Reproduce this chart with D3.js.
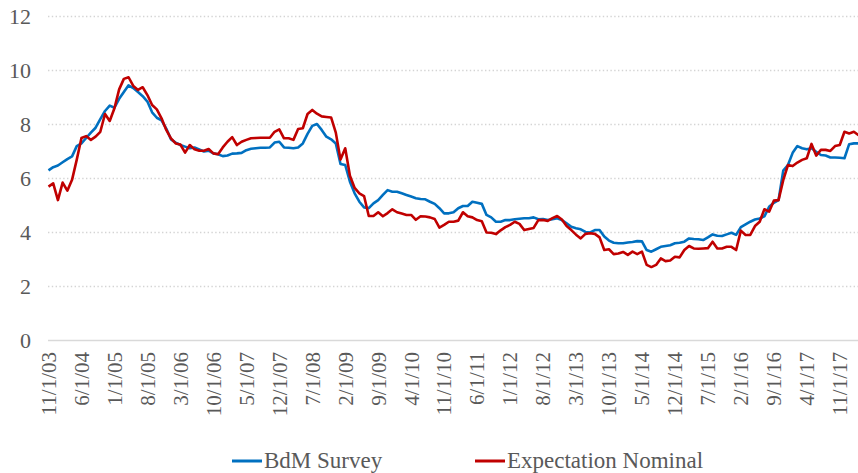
<!DOCTYPE html>
<html>
<head>
<meta charset="utf-8">
<script src="https://cdn.jsdelivr.net/npm/d3@7"></script>
<style>
  svg text { font-family: 'Liberation Serif', 'Tinos', 'Times New Roman', serif !important; }
</style>
</head>
<body style="margin:0">
<svg id="chart" width="858" height="473"></svg>
<script>
var width = 858, height = 473;
var labelFont = "'Liberation Serif', 'Tinos', 'Times New Roman', serif";
var textColor = "#595959";

// monthly observations, Nov 2003 .. Mar 2018
var startMonth = new Date(2003, 10, 1);
var endMonth = new Date(2018, 2, 1);

var bdmSurvey = [
  6.30, 6.42, 6.48, 6.60, 6.72, 6.82, 7.20, 7.30, 7.50, 7.70,
  7.88, 8.20, 8.50, 8.70, 8.62, 8.95, 9.20, 9.45, 9.35, 9.20,
  9.05, 8.85, 8.45, 8.25, 8.15, 7.85, 7.45, 7.33, 7.24, 7.18,
  7.12, 7.15, 7.08, 7.00, 7.03, 6.93, 6.90, 6.83, 6.85, 6.92,
  6.93, 6.95, 7.05, 7.10, 7.12, 7.14, 7.14, 7.15, 7.33, 7.36,
  7.15, 7.14, 7.12, 7.15, 7.30, 7.65, 7.95, 8.02, 7.80, 7.55,
  7.45, 7.30, 6.54, 6.50, 5.88, 5.45, 5.14, 4.93, 4.90, 5.08,
  5.20, 5.39, 5.57, 5.51, 5.51, 5.45, 5.39, 5.33, 5.27, 5.24,
  5.23, 5.14, 5.06, 4.90, 4.71, 4.71, 4.75, 4.90, 4.98, 4.98,
  5.14, 5.10, 5.06, 4.65, 4.56, 4.40, 4.40, 4.46, 4.46, 4.49,
  4.51, 4.53, 4.53, 4.56, 4.49, 4.50, 4.46, 4.49, 4.53, 4.46,
  4.34, 4.21, 4.16, 4.12, 4.02, 4.00, 4.09, 4.09, 3.85, 3.70,
  3.62, 3.60, 3.60, 3.63, 3.65, 3.68, 3.67, 3.35, 3.29, 3.38,
  3.47, 3.50, 3.53, 3.60, 3.62, 3.66, 3.78, 3.76, 3.75, 3.72,
  3.82, 3.93, 3.88, 3.87, 3.93, 3.99, 3.91, 4.20, 4.30, 4.40,
  4.48, 4.52, 4.60, 4.95, 5.10, 5.20, 6.29, 6.50, 6.95, 7.20,
  7.12, 7.08, 7.12, 6.99, 6.87, 6.85, 6.78, 6.78, 6.77, 6.75,
  7.27, 7.30, 7.30
];

var expectationNominal = [
  5.70, 5.82, 5.20, 5.85, 5.55, 5.95, 6.70, 7.50, 7.57, 7.43,
  7.55, 7.73, 8.39, 8.13, 8.60, 9.30, 9.69, 9.75, 9.43, 9.28,
  9.38, 9.09, 8.72, 8.56, 8.23, 7.80, 7.49, 7.30, 7.26, 6.96,
  7.24, 7.08, 7.03, 7.03, 7.09, 6.93, 6.90, 7.15, 7.36, 7.53,
  7.24, 7.36, 7.43, 7.49, 7.50, 7.51, 7.51, 7.51, 7.73, 7.82,
  7.49, 7.49, 7.43, 7.83, 7.86, 8.39, 8.54, 8.40, 8.30, 8.28,
  8.26, 7.70, 6.70, 7.12, 6.10, 5.65, 5.45, 5.35, 4.61, 4.61,
  4.75, 4.60, 4.72, 4.86, 4.75, 4.70, 4.65, 4.65, 4.47, 4.60,
  4.59, 4.56, 4.50, 4.18, 4.28, 4.40, 4.40, 4.44, 4.75, 4.60,
  4.56, 4.46, 4.42, 4.00, 3.99, 3.94, 4.08, 4.20, 4.28, 4.40,
  4.32, 4.09, 4.13, 4.17, 4.46, 4.46, 4.43, 4.53, 4.61, 4.48,
  4.24, 4.09, 3.92, 3.78, 3.95, 3.97, 3.95, 3.82, 3.35, 3.38,
  3.20, 3.22, 3.28, 3.17, 3.29, 3.20, 3.29, 2.80, 2.72, 2.80,
  3.04, 2.94, 2.96, 3.10, 3.08, 3.35, 3.50, 3.41, 3.40, 3.41,
  3.42, 3.66, 3.41, 3.41, 3.47, 3.47, 3.35, 4.07, 3.91, 3.91,
  4.24, 4.40, 4.86, 4.77, 5.18, 5.20, 5.94, 6.50, 6.46, 6.59,
  6.69, 6.75, 7.28, 6.85, 7.06, 7.06, 7.02, 7.20, 7.24, 7.73,
  7.67, 7.73, 7.60
];

var tickLabels = ["11/1/03", "6/1/04", "1/1/05", "8/1/05", "3/1/06", "10/1/06", "5/1/07",
  "12/1/07", "7/1/08", "2/1/09", "9/1/09", "4/1/10", "11/1/10", "6/1/11", "1/1/12",
  "8/1/12", "3/1/13", "10/1/13", "5/1/14", "12/1/14", "7/1/15", "2/1/16", "9/1/16",
  "4/1/17", "11/1/17"];
var yTicks = [0, 2, 4, 6, 8, 10, 12];

var seriesNames = ["BdM Survey", "Expectation Nominal"];
var colors = ["#0070C0", "#C00000"];

var fmt = d3.timeFormat("%-m/%-d/%y");
var months = d3.timeMonth.range(startMonth, d3.timeMonth.offset(endMonth, 1)).map(fmt);

var svg = d3.select("#chart");

var x = d3.scalePoint()
    .domain(months)
    .range([48.5, 858.6]);

var y = d3.scaleLinear()
    .domain([0, 12])
    .range([340.5, 16.5]);

/* gridlines */
svg.append("g")
  .selectAll("line")
  .data(yTicks.filter(function(d) { return d > 0; }))
  .enter().append("line")
  .attr("x1", 48)
  .attr("x2", width)
  .attr("y1", function(d) { return y(d); })
  .attr("y2", function(d) { return y(d); })
  .attr("stroke", "#d4d4d4")
  .attr("stroke-width", 1.3)
  .attr("stroke-dasharray", "1.4,2.4");

/* base line */
svg.append("line")
  .attr("x1", 48)
  .attr("x2", width)
  .attr("y1", y(0))
  .attr("y2", y(0))
  .attr("stroke", "#d9d9d9")
  .attr("stroke-width", 1.5);

/* y labels */
svg.append("g")
  .selectAll("text")
  .data(yTicks)
  .enter().append("text")
  .attr("x", 31)
  .attr("y", function(d) { return y(d); })
  .attr("dy", "0.35em")
  .attr("text-anchor", "end")
  .attr("fill", textColor)
  .attr("font-family", labelFont)
  .style("font-size", "22px")
  .text(function(d) { return d; });

/* x labels */
svg.append("g")
  .selectAll("text")
  .data(tickLabels)
  .enter().append("text")
  .attr("transform", function(d) { return "translate(" + x(d) + ",352) rotate(-90)"; })
  .attr("dy", "0.35em")
  .attr("text-anchor", "end")
  .attr("fill", textColor)
  .attr("font-family", labelFont)
  .style("font-size", "21px")
  .text(function(d) { return d; });

/* lines */
var seriesData = [bdmSurvey, expectationNominal];
var line = d3.line()
  .x(function(d, i) { return x(months[i]); })
  .y(function(d) { return y(d); });

svg.append("g")
  .selectAll("path")
  .data(seriesData)
  .enter().append("path")
  .attr("d", line)
  .attr("fill", "none")
  .attr("stroke", function(d, i) { return colors[i]; })
  .attr("stroke-width", 2.6)
  .attr("stroke-linejoin", "round");

/* legend */
var legendX = [232, 475];
var legend = svg.append("g")
  .selectAll("g")
  .data(seriesNames)
  .enter().append("g")
  .attr("transform", function(d, i) { return "translate(" + legendX[i] + ",461)"; });

legend.append("line")
  .attr("x1", 0)
  .attr("x2", 30)
  .attr("stroke", function(d, i) { return colors[i]; })
  .attr("stroke-width", 3);

legend.append("text")
  .attr("x", 32)
  .attr("y", 7)
  .attr("fill", textColor)
  .attr("font-family", labelFont)
  .style("font-size", "23px")
  .text(function(d) { return d; });
</script>
</body>
</html>
